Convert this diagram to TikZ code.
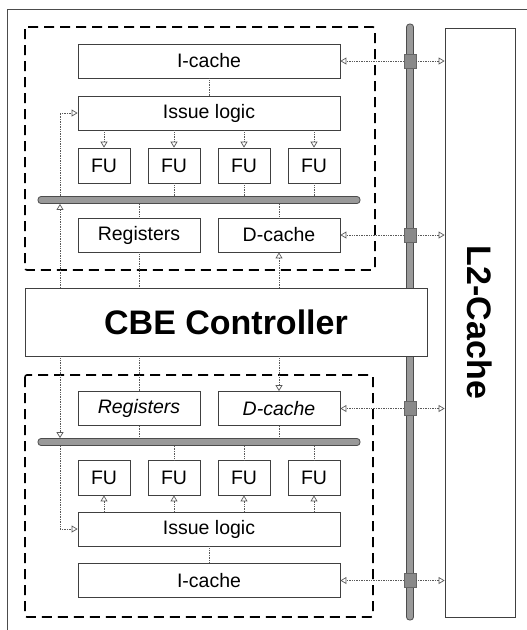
\documentclass[tikz,border=0pt]{standalone}
\usepackage{fontspec}
\setmainfont{Liberation Sans}
\usetikzlibrary{arrows.meta,calc,positioning}
\definecolor{busgray}{rgb}{0.6,0.6,0.6}
\definecolor{linegray}{rgb}{0.35,0.35,0.35}
\tikzset{
  unit/.style={
    draw=black!75,
    fill=white,
    line width=.8pt,
    minimum height=34pt,
    inner sep=0pt,
    font=\fontsize{19.5}{21}\selectfont
  },
  wide/.style={unit, minimum width=262pt},
  half/.style={unit, minimum width=122pt},
  fubox/.style={unit, minimum width=52pt, minimum height=35pt},
  bigtext/.style={font=\fontsize{34}{37}\selectfont\bfseries},
  bus/.style={
    draw=black!70,
    fill=busgray,
    line width=.8pt,
    rounded corners=3pt,
    inner sep=0pt
  },
  junction/.style={
    draw=black!60,
    fill=busgray!90!black,
    minimum width=12pt,
    minimum height=14pt,
    inner sep=0pt
  },
  core/.style={
    dash pattern=on 10pt off 6pt,
    line width=1.6pt,
    rounded corners=2pt
  },
  link/.style={densely dotted, linegray, line width=.7pt},
  flow/.style={
    link,
    -{Triangle[open,length=6pt,width=7pt]}
  }
}
\begin{document}
\begin{tikzpicture}[x=1pt,y=-1pt]
\useasboundingbox (0,0) rectangle (527,630);
\draw[line width=1pt, black!70] (7,630) -- (7,9) -- (527,9);

% core frames
\draw[core] (25,27) rectangle (375,270);
\draw[core] (25,375) rectangle (373,617);

% vertical bus and L2
\node[bus, minimum width=7pt, minimum height=268pt] (vbusA) at (410,158) {};
\node[bus, minimum width=7pt, minimum height=268pt] (vbusB) at (410,486) {};
\node[unit, minimum width=70pt, minimum height=589pt,
  label={[bigtext, rotate=-90]center:L2-Cache}] (l2) at (480,322.5) {};
\node[unit, bigtext, minimum width=402pt, minimum height=68pt] (cbe) at (226,322) {CBE Controller};

% upper core
\node[wide] (icacheA) at (209,61) {I-cache};
\node[wide] (issueA) at (209,113) {Issue logic};
\foreach \i/\x in {1/104,2/174,3/244,4/314}
  \node[fubox] (fuA\i) at (\x,165.5) {FU};
\node[bus, minimum width=322pt, minimum height=7pt] (busA) at (199,200) {};
\node[half] (regA) at (139,235) {Registers};
\node[half] (dcacheA) at (279,235) {D-cache};

% lower core
\node[half, font=\fontsize{19.5}{21}\selectfont\itshape] (regB) at (139,408.5) {Registers};
\node[half, font=\fontsize{19.5}{21}\selectfont\itshape] (dcacheB) at (279,408.5) {D-cache};
\node[bus, minimum width=322pt, minimum height=7pt] (busB) at (199,442) {};
\foreach \i/\x in {1/104,2/174,3/244,4/314}
  \node[fubox] (fuB\i) at (\x,477.5) {FU};
\node[wide] (issueB) at (209,529) {Issue logic};
\node[wide] (icacheB) at (209,580.5) {I-cache};

% bus taps
\node[junction] (jA1) at (410,61) {};
\node[junction] (jA2) at (410,235) {};
\node[junction] (jB2) at (410,408.5) {};
\node[junction] (jB1) at (410,580.5) {};
\foreach \j/\n in {jA1/icacheA,jA2/dcacheA,jB2/dcacheB,jB1/icacheB} {
  \draw[flow] (\j.west) -- (\n.east);
  \draw[flow] (\j.east) -- (\j -| l2.west);
}

% upper links
\coordinate (turnA) at (60,113);
\draw[link] (icacheA) -- (issueA);
\foreach \i in {1,...,4}
  \draw[flow] (issueA.south -| fuA\i) -- (fuA\i);
\foreach \i in {2,3,4}
  \draw[link] (fuA\i) -- (busA.north -| fuA\i);
\draw[link] (busA.south -| regA) -- (regA);
\draw[link] (busA.south -| dcacheA) -- (dcacheA);
\draw[link] (regA) -- (cbe.north -| regA);
\draw[flow] (cbe.north -| dcacheA) -- (dcacheA);
\draw[flow] (cbe.north -| turnA) -- (busA.south -| turnA);
\draw[flow] (busA.north -| turnA) |- (issueA.west);

% lower links
\coordinate (turnB) at (60,529);
\draw[link] (cbe.south -| regB) -- (regB);
\draw[flow] (cbe.south -| dcacheB) -- (dcacheB);
\draw[link] (regB) -- (busB.north -| regB);
\draw[link] (dcacheB) -- (busB.north -| dcacheB);
\foreach \i in {2,3,4}
  \draw[link] (busB.south -| fuB\i) -- (fuB\i);
\foreach \i in {1,...,4}
  \draw[flow] (issueB.north -| fuB\i) -- (fuB\i);
\draw[link] (issueB) -- (icacheB);
\draw[flow] (cbe.south -| turnB) -- (busB.north -| turnB);
\draw[flow] (busB.south -| turnB) |- (issueB.west);
\end{tikzpicture}
\end{document}
